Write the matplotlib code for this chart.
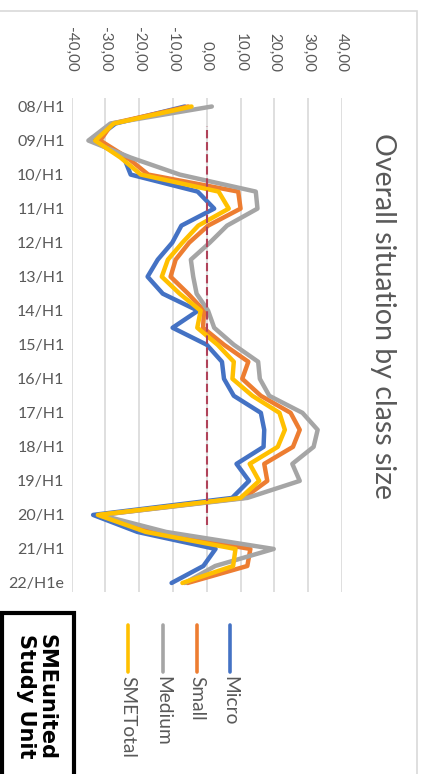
import matplotlib
matplotlib.use("Agg")
import matplotlib.pyplot as plt
from matplotlib.patches import Rectangle
from matplotlib.lines import Line2D

plt.rcParams['font.family'] = ['Lato', 'DejaVu Sans']

# Half-year periods (every other one gets a tick label)
categories = [
    "08/H1", "08/H2", "09/H1", "09/H2", "10/H1", "10/H2", "11/H1", "11/H2",
    "12/H1", "12/H2", "13/H1", "13/H2", "14/H1", "14/H2", "15/H1", "15/H2",
    "16/H1", "16/H2", "17/H1", "17/H2", "18/H1", "18/H2", "19/H1", "19/H2",
    "20/H1", "20/H2", "21/H1", "21/H2", "22/H1e",
]

micro = [-6.5, -27.0, -33.5, -24.5, -22.5, -2.7, 2.2, -7.5, -10.2, -14.5,
         -17.5, -13.0, -2.6, -10.1, 0.0, 4.5, 5.1, 8.0, 16.0, 17.0,
         16.8, 8.8, 12.5, 7.5, -33.6, -20.5, 2.6, -1.0, -10.4]
small = [-5.5, -28.0, -31.5, -23.5, -17.3, 9.3, 10.0, 0.4, -5.2, -9.2,
         -10.7, -5.5, -0.8, -1.1, 5.1, 12.3, 10.5, 16.0, 24.8, 27.5,
         25.5, 17.0, 17.9, 11.0, -31.5, -16.5, 12.9, 12.0, -5.7]
medium = [1.5, -28.5, -35.0, -22.5, -8.0, 14.5, 15.0, 6.0, 0.9, -4.7,
          -4.0, -3.0, 0.4, 2.2, 8.0, 15.2, 15.7, 18.5, 28.3, 32.8,
          31.6, 25.3, 27.5, 12.0, -31.5, -12.0, 19.8, 2.5, -6.5]
sme_total = [-4.5, -27.5, -33.0, -25.5, -19.5, 3.5, 6.5, -2.5, -7.2, -11.5,
             -13.3, -8.0, -1.8, -2.8, 3.2, 8.0, 7.6, 13.5, 21.5, 23.1,
             21.0, 12.7, 15.5, 10.0, -32.2, -18.0, 8.5, 7.8, -7.2]

series_names = ["Micro", "Small", "Medium", "SMETotal"]
series_values = [micro, small, medium, sme_total]
series_colors = ["#4472C4", "#ED7D31", "#A5A5A5", "#FFC000"]

value_ticks = [-40, -30, -20, -10, 0, 10, 20, 30, 40]
value_tick_labels = ["-40,00", "-30,00", "-20,00", "-10,00", "0,00",
                     "10,00", "20,00", "30,00", "40,00"]

title = "Overall situation by class size"
badge_lines = "SMEunited\nStudy Unit"

W, H = 424, 774
fig = plt.figure(figsize=(W / 100, H / 100), dpi=100)
fig.patch.set_facecolor("white")


def fx(px):
    return px / W


def fy(py):
    return 1 - py / H


# Chart-area frame
fig.patches.append(Rectangle((fx(-2), fy(790)), fx(419), fy(11) - fy(790),
                             transform=fig.transFigure, fill=False,
                             edgecolor="#d9d9d9", linewidth=1.2, zorder=0))

# Plot area: values run left->right, periods run top->bottom
ax_left, ax_right, ax_top, ax_bottom = 71.5, 342.0, 98.0, 591.5
ax = fig.add_axes([fx(ax_left), fy(ax_bottom), fx(ax_right - ax_left),
                   (ax_bottom - ax_top) / H])
ax.set_facecolor("none")
n = len(categories)
positions = list(range(n))
ax.set_xlim(-40, 40)
ax.set_ylim(n - 0.5, -0.5)

for s in ax.spines.values():
    s.set_visible(False)

ax.set_xticks(value_ticks)
ax.set_xticklabels(value_tick_labels, rotation=-90, color="#595959",
                   fontsize=11)
ax.xaxis.tick_top()
ax.tick_params(axis="x", length=0, pad=19)
ax.grid(axis="x", color="#d9d9d9", linewidth=1.2)
ax.set_axisbelow(True)

ax.set_yticks(positions[::2])
ax.set_yticklabels(categories[::2], color="#595959", fontsize=11.5)
ax.tick_params(axis="y", length=0, pad=5)

for vals, color in zip(series_values, series_colors):
    ax.plot(vals, positions, color=color, linewidth=3.2,
            solid_joinstyle="round", solid_capstyle="round", zorder=3)

# Dashed zero reference
ax.axvline(0, ymin=0.135, ymax=0.943, color="#b0435a", linewidth=1.5,
           linestyle=(0, (4, 1.8)), zorder=4)

# Title along the right edge
fig.text(fx(383), fy(316), title, rotation=-90, ha="center", va="center",
         color="#595959", fontsize=20.5)

# Legend: short vertical keys with rotated names below
legend_x = [230, 197, 163, 128]
for name, color, x in zip(series_names, series_colors, legend_x):
    fig.lines.append(Line2D([fx(x), fx(x)], [fy(625), fy(672)],
                            transform=fig.transFigure, color=color,
                            linewidth=2.6, solid_capstyle="round"))
    fig.text(fx(x), fy(676), name, rotation=-90, ha="center", va="top",
             color="#595959", fontsize=13.8)

# Badge in the lower-left corner
fig.patches.append(Rectangle((fx(1.5), fy(790)), fx(72), fy(613) - fy(790),
                             transform=fig.transFigure, fill=True,
                             facecolor="white", edgecolor="black",
                             linewidth=3, zorder=5))
fig.text(fx(36), fy(697), badge_lines, rotation=-90, ha="center",
         va="center", multialignment="left", color="black", fontsize=15,
         fontweight="bold", family=["DejaVu Sans"], linespacing=1.05,
         zorder=6)

fig.savefig("out.png", dpi=100, facecolor="white")
